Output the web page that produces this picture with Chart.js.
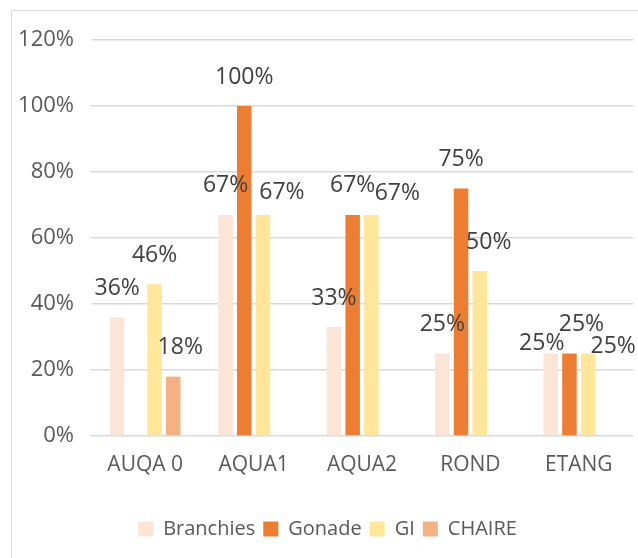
<!DOCTYPE html>
<html lang="fr">
<head>
<meta charset="UTF-8">
<title>Prevalence</title>
<script src="https://cdn.jsdelivr.net/npm/chart.js"></script>
<style>
  html, body { margin: 0; padding: 0; background: #fff; overflow: hidden; }
  .cadre {
    position: absolute; left: 11px; top: 10px; width: 700px; height: 600px;
    border: 1.5px solid #d9d9d9; box-sizing: border-box;
  }
  .zone { position: absolute; left: 0; top: 0; width: 638px; height: 558px; }
</style>
</head>
<body>
<div class="cadre"></div>
<div class="zone"><canvas id="graphique"></canvas></div>

<script>
// donnees (en %)
const categories = ['AUQA 0', 'AQUA1', 'AQUA2', 'ROND', 'ETANG'];
const branchies = [36, 67, 33, 25, 25];
const gonade    = [null, 100, 67, 75, 25];
const gi        = [46, 67, 67, 50, 25];
const chaire    = [18, null, null, null, null];
const graduations = [0, 20, 40, 60, 80, 100, 120];

// decalage des etiquettes deplacees a la main dans l'original
const decalages = {
  '0-4': [-9, 19],
  '1-4': [12, 0],
  '2-1': [19, 7],
  '2-2': [26, 8],
  '2-3': [9, 0],
  '2-4': [25, 22],
  '3-0': [7, 0]
};

const police = "'Open Sans', sans-serif";

const etiquettes = {
  id: 'etiquettes',
  afterDatasetsDraw(chart) {
    const ctx = chart.ctx;
    ctx.save();
    ctx.font = '23px ' + police;
    ctx.fillStyle = '#404040';
    ctx.textAlign = 'center';
    ctx.textBaseline = 'middle';
    chart.data.datasets.forEach((ds, d) => {
      const meta = chart.getDatasetMeta(d);
      meta.data.forEach((barre, i) => {
        const v = ds.data[i];
        if (v === null) return;
        const dec = decalages[d + '-' + i] || [0, 0];
        ctx.fillText(v + '%', barre.x + dec[0], barre.y - 29 + dec[1]);
      });
    });
    ctx.restore();
  }
};

// la legende est un peu a droite du centre dans l'original
const legendeDecalee = {
  id: 'legendeDecalee',
  afterLayout(chart) {
    if (chart.legend) {
      chart.legend.left += 11;
      chart.legend.right += 11;
    }
  }
};

const ctx = document.getElementById('graphique');

new Chart(ctx, {
  type: 'bar',
  data: {
    labels: categories,
    datasets: [
      { label: 'Branchies', data: branchies, backgroundColor: '#fbe5d6' },
      { label: 'Gonade', data: gonade, backgroundColor: '#ed7d31' },
      { label: 'GI', data: gi, backgroundColor: '#ffe699' },
      { label: 'CHAIRE', data: chaire, backgroundColor: '#f4b183' }
    ]
  },
  options: {
    responsive: true,
    maintainAspectRatio: false,
    animation: false,
    datasets: {
      bar: { categoryPercentage: 0.69, barPercentage: 0.775 }
    },
    layout: { padding: { top: 40, right: 5, left: 0, bottom: 9 } },
    scales: {
      x: {
        grid: { display: false },
        border: { display: false },
        ticks: { color: '#595959', font: { family: police, size: 21 }, padding: 8 },
        afterFit(scale) { scale.height = 75; }
      },
      y: {
        min: 0,
        max: 120,
        afterBuildTicks(scale) { scale.ticks = graduations.map(v => ({ value: v })); },
        grid: { color: '#d9d9d9', lineWidth: 1.5, drawTicks: false },
        border: { display: false },
        ticks: {
          color: '#595959',
          font: { family: police, size: 22 },
          padding: 17,
          callback: v => v + '%'
        },
        afterFit(scale) { scale.width = 91; }
      }
    },
    plugins: {
      legend: {
        position: 'bottom',
        labels: {
          color: '#595959',
          font: { family: police, size: 20 },
          boxWidth: 15,
          boxHeight: 15,
          padding: 8
        }
      },
      tooltip: { enabled: false }
    }
  },
  plugins: [etiquettes, legendeDecalee]
});
</script>
</body>
</html>
